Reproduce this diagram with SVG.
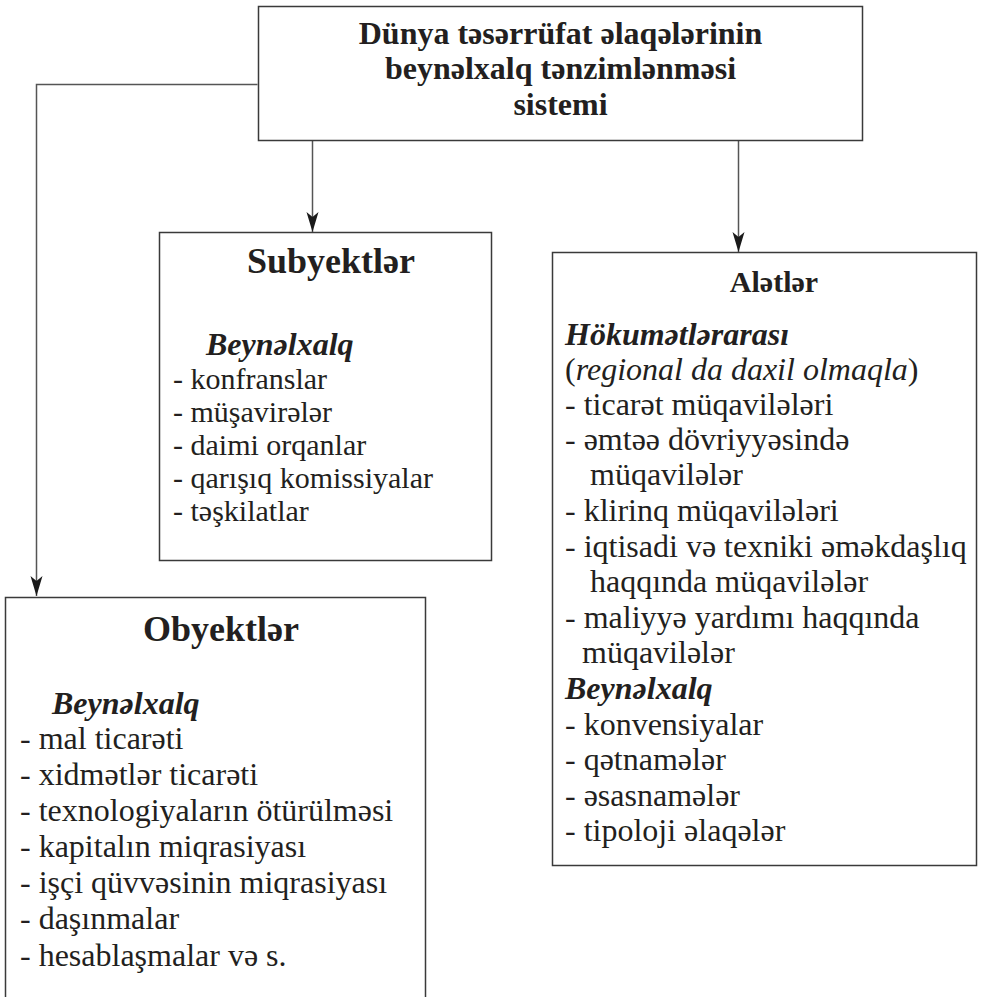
<svg xmlns="http://www.w3.org/2000/svg" width="984" height="997" viewBox="0 0 984 997">
<style>
.box{fill:none;stroke:#3a3a3a;stroke-width:1.5}
.con{fill:none;stroke:#555;stroke-width:1.5}
text{font-family:"Liberation Serif","Times New Roman",serif;fill:#231f20}
.t{font-size:32px;font-weight:bold;text-anchor:middle}
.h{font-size:36px;font-weight:bold;text-anchor:middle}
.h2{font-size:30px;font-weight:bold;text-anchor:middle}
.bi{font-size:32px;font-weight:bold;font-style:italic}
.it{font-style:italic}
.s{font-size:30px}
.l{font-size:32px}
.r{font-size:32px}
</style>
<defs>
<marker id="arr" markerUnits="userSpaceOnUse" markerWidth="22" markerHeight="14" refX="20" refY="7" orient="auto">
<path d="M0,1 L20,7 L0,13 L5,7 Z" fill="#1a1a1a"/>
</marker>
</defs>
<g id="connectors">
<path class="con" d="M312.5,140.5 V232" marker-end="url(#arr)"/>
<path class="con" d="M738.5,140.5 V252" marker-end="url(#arr)"/>
<path class="con" d="M257.5,84.5 H36.5 V596" marker-end="url(#arr)"/>
</g>
<g id="root">
<rect class="box" x="258.5" y="6.5" width="604" height="134"/>
<text class="t" x="560.5" y="44">Dünya təsərrüfat əlaqələrinin</text>
<text class="t" x="560.5" y="79">beynəlxalq tənzimlənməsi</text>
<text class="t" x="560.5" y="115">sistemi</text>
</g>
<g id="subyektler">
<rect class="box" x="159.5" y="232.5" width="332" height="328"/>
<text class="h" x="331" y="273">Subyektlər</text>
<text class="bi" x="206" y="355">Beynəlxalq</text>
<text class="s" x="173" y="389">- konfranslar</text>
<text class="s" x="173" y="422">- müşavirələr</text>
<text class="s" x="173" y="455">- daimi orqanlar</text>
<text class="s" x="173" y="488">- qarışıq komissiyalar</text>
<text class="s" x="173" y="521">- təşkilatlar</text>
</g>
<g id="aletler">
<rect class="box" x="552.5" y="252.5" width="424" height="613"/>
<text class="h2" x="774" y="292">Alətlər</text>
<text class="bi" x="565" y="344.5">Hökumətlərarası</text>
<text class="r" x="565" y="380">(<tspan class="it">regional da daxil olmaqla</tspan>)</text>
<text class="r" x="565" y="415">- ticarət müqavilələri</text>
<text class="r" x="565" y="450">- əmtəə dövriyyəsində</text>
<text class="r" x="590" y="485">müqavilələr</text>
<text class="r" x="565" y="521">- klirinq müqavilələri</text>
<text class="r" x="565" y="557">- iqtisadi və texniki əməkdaşlıq</text>
<text class="r" x="590" y="592">haqqında müqavilələr</text>
<text class="r" x="565" y="628">- maliyyə yardımı haqqında</text>
<text class="r" x="582" y="663">müqavilələr</text>
<text class="bi" x="565" y="699">Beynəlxalq</text>
<text class="r" x="565" y="735">- konvensiyalar</text>
<text class="r" x="565" y="770">- qətnamələr</text>
<text class="r" x="565" y="806">- əsasnamələr</text>
<text class="r" x="565" y="841">- tipoloji əlaqələr</text>
</g>
<g id="obyektler">
<path class="box" d="M5.5,1000 V597.5 H425.5 V1000"/>
<text class="h" x="221" y="641">Obyektlər</text>
<text class="bi" x="52" y="714">Beynəlxalq</text>
<text class="l" x="20" y="749">- mal ticarəti</text>
<text class="l" x="20" y="785">- xidmətlər ticarəti</text>
<text class="l" x="20" y="821">- texnologiyaların ötürülməsi</text>
<text class="l" x="20" y="857">- kapitalın miqrasiyası</text>
<text class="l" x="20" y="893">- işçi qüvvəsinin miqrasiyası</text>
<text class="l" x="20" y="929">- daşınmalar</text>
<text class="l" x="20" y="966">- hesablaşmalar və s.</text>
</g>
</svg>
